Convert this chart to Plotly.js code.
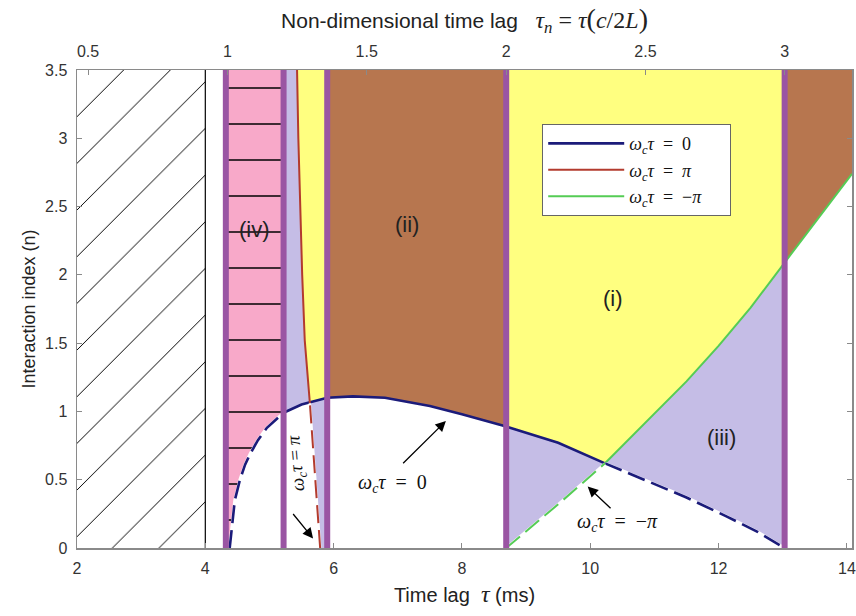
<!DOCTYPE html>
<html><head><meta charset="utf-8">
<script src="https://cdn.plot.ly/plotly-3.0.1.min.js"></script>
<style>html,body{margin:0;padding:0;background:#fff}#chart{width:856px;height:616px}</style>
</head><body><div id="chart"></div>
<script>
// ---------------- data ----------------
const xRange = [2, 14.08];
const nMax = 3.5;
const xTicks = [2, 4, 6, 8, 10, 12, 14];
const yTicks = [0, 0.5, 1, 1.5, 2, 2.5, 3, 3.5];
const topTicks = [0.5, 1, 1.5, 2, 2.5, 3];
const cOver2L = 0.2302;            // tau_n per ms

// omega_c tau = 0  (blue)
const blueTau = [4.38, 4.42, 4.46, 4.54, 4.62, 4.70, 4.82, 4.96, 5.10, 5.22, 5.50, 5.90, 6.30, 6.80, 7.50, 8.00, 8.69, 9.50, 10.23, 11.00, 11.50, 12.13, 12.60, 13.03];
const blueN   = [0, 0.19, 0.35, 0.50, 0.61, 0.69, 0.79, 0.88, 0.94, 0.99, 1.05, 1.10, 1.11, 1.10, 1.04, 0.98, 0.89, 0.77, 0.62, 0.47, 0.37, 0.23, 0.12, 0];
// omega_c tau = pi  (red)
const redTau = [5.43, 5.45, 5.475, 5.51, 5.55, 5.59, 5.63, 5.68, 5.735, 5.79];
const redN   = [3.5, 3.0, 2.5, 2.0, 1.52, 1.28, 1.06, 0.75, 0.38, 0];
// omega_c tau = -pi (green)
const greenTau = [8.69, 9.00, 9.50, 10.23, 11.00, 11.50, 12.00, 12.50, 13.03, 13.50, 14.08];
const greenN   = [0, 0.12, 0.32, 0.62, 0.98, 1.22, 1.48, 1.76, 2.09, 2.38, 2.74];

const hatchEdges = [2, 4];                       // hatched zone, black line at 4
const purpleLines = [4.32, 5.22, 5.90, 8.69, 13.03];
const redBlueCross = [5.63, 1.06];
const greenBlueCross = [10.23, 0.62];

const regionLabels = ['(iv)', '(ii)', '(i)', '(iii)'];
const regionLabelX = [4.76, 7.15, 10.35, 12.05];
const regionLabelY = [2.33, 2.37, 1.83, 0.81];

// ---------------- styles ----------------
const C = {pink:'#f8a9c9', yellow:'#ffff80', brown:'#b7764f', lav:'#c5bde6', purple:'#9a55a3',
           blue:'#1b1b7a', red:'#b33b2e', green:'#55cc55', axis:'#8a8a8a'};
const SERIF = 'Liberation Serif, Times New Roman, serif';
const PAD = '\u00a0\u00a0\u00a0\u00a0\u00a0';

// ---------------- helpers ----------------
function lerp(xs, ys, x) {
  if (x <= xs[0]) return ys[0];
  if (x >= xs[xs.length - 1]) return ys[ys.length - 1];
  for (let i = 1; i < xs.length; i++) if (x <= xs[i]) {
    const t = (x - xs[i - 1]) / (xs[i] - xs[i - 1]);
    return ys[i - 1] + t * (ys[i] - ys[i - 1]);
  }
}
function piece(xs, ys, a, b) {
  const X = [a], Y = [lerp(xs, ys, a)];
  xs.forEach((v, i) => { if (v > a && v < b) { X.push(v); Y.push(ys[i]); } });
  X.push(b); Y.push(lerp(xs, ys, b));
  return {x: X, y: Y};
}
function rev(p) { return {x: p.x.slice().reverse(), y: p.y.slice().reverse()}; }
function cat(parts) { const o = {x: [], y: []}; parts.forEach(p => { o.x.push(...p.x); o.y.push(...p.y); }); return o; }
function pt(x, y) { return {x: [x], y: [y]}; }
const blue = (a, b) => piece(blueTau, blueN, a, b);
const green = (a, b) => piece(greenTau, greenN, a, b);
const rN = redN.slice().reverse(), rT = redTau.slice().reverse();
const red = (n1, n2) => { const p = piece(rN, rT, n1, n2); return {x: p.y, y: p.x}; }; // ascending n
const redTop = lerp(rN, rT, nMax);

function region(p, color, pattern) {
  const t = {x: p.x, y: p.y, mode: 'lines', fill: 'toself', fillcolor: color, line: {width: 0, color: color},
             hoverinfo: 'skip', showlegend: false};
  if (pattern) t.fillpattern = pattern;
  return t;
}

const [p0, p1, p2, p3, p4] = purpleLines;
const [xi, ni] = redBlueCross;
const [gx] = greenBlueCross;

const traces = [];
// hatched zone
traces.push(region(cat([pt(hatchEdges[0], 0), pt(hatchEdges[1], 0), pt(hatchEdges[1], nMax), pt(hatchEdges[0], nMax)]), '#ffffff',
  {shape: '/', size: 33, solidity: 0.03, fgcolor: '#000000', bgcolor: '#ffffff', fgopacity: 1}));
// pink (iv)
traces.push(region(cat([pt(p0, nMax), pt(p1, nMax), rev(blue(p0, p1))]), C.pink,
  {shape: '-', size: 36, solidity: 0.035, fgcolor: '#000000', bgcolor: C.pink, fgopacity: 1}));
// lavender left of red, above blue
traces.push(region(cat([pt(p1, nMax), pt(redTop, nMax), rev(red(ni, nMax)), rev(blue(p1, xi))]), C.lav));
// yellow right of red, above blue
traces.push(region(cat([pt(redTop, nMax), pt(p2, nMax), rev(blue(xi, p2)), red(ni, nMax)]), C.yellow));
// lavender right of red, below blue
traces.push(region(cat([rev(red(0, ni)), pt(p2, 0), rev(blue(xi, p2))]), C.lav));
// brown (ii)
traces.push(region(cat([pt(p2, nMax), pt(p3, nMax), rev(blue(p2, p3))]), C.brown));
// yellow (i)
traces.push(region(cat([pt(p3, nMax), pt(p4, nMax), rev(green(gx, p4)), rev(blue(p3, gx))]), C.yellow));
// lavender (iii) between blue and green
traces.push(region(cat([blue(p3, p4), rev(green(p3, p4))]), C.lav));
// brown right of 3
traces.push(region(cat([pt(p4, nMax), pt(xRange[1], nMax), rev(green(p4, xRange[1]))]), C.brown));

// black line at tau = 4
traces.push({x: [hatchEdges[1], hatchEdges[1]], y: [0, nMax], mode: 'lines', line: {color: '#000', width: 1.2}, hoverinfo: 'skip', showlegend: false});

function curve(p, color, width, dashed, name) {
  const out = [];
  if (dashed) out.push({x: p.x, y: p.y, mode: 'lines', line: {color: '#ffffff', width: width + 0.5}, hoverinfo: 'skip', showlegend: false});
  out.push({x: p.x, y: p.y, mode: 'lines', name: name || '', line: {color: color, width: width, dash: dashed ? '18px,7px' : 'solid'},
            hoverinfo: 'skip', showlegend: !!name});
  return out;
}
const blueStart = blueTau[0], blueEnd = blueTau[blueTau.length - 1];
// legend order: blue, red, green (solid parts)
traces.push(...curve(blue(p1, gx), C.blue, 2.6, false, '<i>ω<sub>c</sub>τ</i>\u00a0 = \u00a00' + PAD));
traces.push(...curve(red(ni, nMax), C.red, 2, false, '<i>ω<sub>c</sub>τ</i>\u00a0 = \u00a0<i>π</i>' + PAD));
traces.push(...curve(green(gx, xRange[1]), C.green, 2, false, '<i>ω<sub>c</sub>τ</i>\u00a0 = \u00a0−<i>π</i>' + PAD));
traces.push(...curve(blue(blueStart, p1), C.blue, 2.6, true));
traces.push(...curve(blue(gx, blueEnd), C.blue, 2.6, true));
traces.push(...curve(red(0, ni), C.red, 2, true));
traces.push(...curve(green(greenTau[0], gx), C.green, 2, true));

// purple boundaries
purpleLines.forEach(v => traces.push({x: [v, v], y: [0, nMax], mode: 'lines', line: {color: C.purple, width: 6},
  hoverinfo: 'skip', showlegend: false}));

// invisible trace to carry the top axis
traces.push({x: [xRange[0] * cOver2L], y: [0], xaxis: 'x2', mode: 'markers', marker: {opacity: 0}, hoverinfo: 'skip', showlegend: false});

const annotations = regionLabels.map((t, i) => ({x: regionLabelX[i], y: regionLabelY[i], text: t, showarrow: false,
  font: {size: 22, color: '#222', family: 'Liberation Sans, Arial, sans-serif'}}));

function arrow(tipX, tipY, tailX, tailY) {
  return {x: tipX, y: tipY, ax: tailX, ay: tailY, axref: 'x', ayref: 'y', text: '', showarrow: true,
          arrowhead: 2, arrowsize: 1.6, arrowwidth: 1.3, arrowcolor: '#000'};
}
annotations.push({x: 6.91, y: 0.47, text: '<i>ω<sub>c</sub>τ</i>\u00a0 = \u00a00', showarrow: false, font: {family: SERIF, size: 20, color: '#111'}});
annotations.push(arrow(7.75, 0.93, 7.06, 0.61));
annotations.push({x: 5.43, y: 0.62, text: '<i>ω<sub>c</sub>τ</i> = <i>π</i>', showarrow: false, textangle: -95, font: {family: SERIF, size: 19, color: '#111'}});
annotations.push(arrow(5.68, 0.07, 5.35, 0.26));
annotations.push({x: 10.42, y: 0.19, text: '<i>ω<sub>c</sub>τ</i>\u00a0 = \u00a0−<i>π</i>', showarrow: false, font: {family: SERIF, size: 20, color: '#111'}});
annotations.push(arrow(9.96, 0.45, 10.34, 0.28));

const axisCommon = {showgrid: false, zeroline: false, showline: true, linecolor: C.axis, linewidth: 1.5,
  ticks: 'inside', ticklen: 5, tickcolor: C.axis, tickwidth: 1, tickfont: {size: 16, color: '#333'}};

const layout = {
  width: 856, height: 616,
  margin: {l: 77, r: 4, t: 70, b: 68, pad: 0},
  paper_bgcolor: '#fff', plot_bgcolor: '#fff',
  font: {family: 'Liberation Sans, Arial, sans-serif', size: 16, color: '#333'},
  title: {text: 'Non-dimensional time lag\u00a0\u00a0 <span style="font-family:Liberation Serif;font-size:24px"><i>τ<sub>n</sub></i> = <i>τ</i><span style="font-size:28px">(</span><i>c</i>/2<i>L</i><span style="font-size:28px">)</span></span>',
          x: 0.5, xref: 'paper', xanchor: 'center', y: 1 - 21 / 616, yref: 'container', yanchor: 'middle',
          font: {size: 21, color: '#222'}},
  xaxis: Object.assign({}, axisCommon, {range: xRange, tickvals: xTicks, ticklabelstandoff: 5,
    title: {text: 'Time lag\u00a0\u00a0<span style="font-family:Liberation Serif;font-size:24px"><i>τ</i></span> (ms)', font: {size: 20, color: '#222'}, standoff: 12}}),
  xaxis2: Object.assign({}, axisCommon, {overlaying: 'x', side: 'top', range: [xRange[0] * cOver2L, xRange[1] * cOver2L],
    tickvals: topTicks, ticklabelstandoff: 5}),
  yaxis: Object.assign({}, axisCommon, {range: [0, nMax], tickvals: yTicks, mirror: 'ticks', ticklabelstandoff: 5,
    title: {text: 'Interaction index (n)', font: {size: 18, color: '#222'}, standoff: 4}}),
  legend: {x: 0.6, y: 0.887, xanchor: 'left', yanchor: 'top', bgcolor: '#fff', bordercolor: '#666', borderwidth: 1.2,
    font: {family: SERIF, size: 18, color: '#111'}, itemwidth: 76, tracegroupgap: 0},
  annotations: annotations,
  showlegend: true
};

Plotly.newPlot('chart', traces, layout, {staticPlot: true, displayModeBar: false});
</script>
</body></html>
